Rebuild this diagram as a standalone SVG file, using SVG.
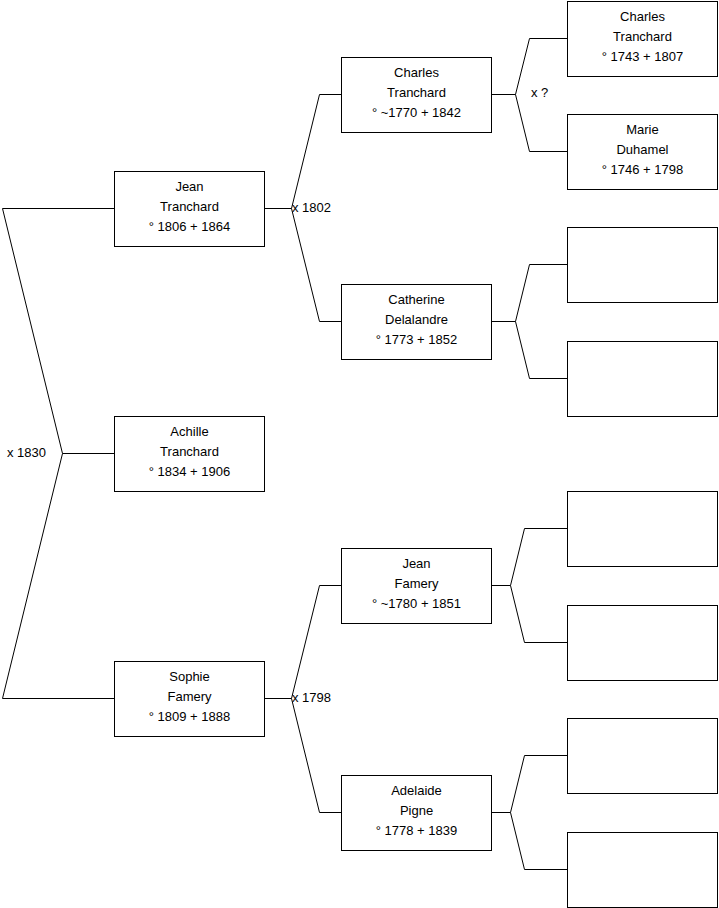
<svg xmlns="http://www.w3.org/2000/svg" width="719" height="908" viewBox="0 0 719 908">
<style>
rect.b{fill:#fff;stroke:#000;stroke-width:1}
text{font-family:"Liberation Sans",Arial,sans-serif;font-size:13px;fill:#000}
.c{text-anchor:middle}
#connectors path{fill:none;stroke:#000;stroke-width:1}
</style>
<rect width="719" height="908" fill="#fff"/>
<g id="connectors">
<path d="M114 208.5 H2.5 L62.5 453.5 L2.5 698.5 H114 M62.5 453.5 H114"/>
<path d="M264.5 208.5 H291.5 L319.5 94.5 H341 M291.5 208.5 L319.5 321.5 H341"/>
<path d="M264.5 698.5 H291.5 L319.5 585.5 H341 M291.5 698.5 L319.5 812.5 H341"/>
<path d="M491 94.5 H515.5 L529.5 38.5 H567 M515.5 94.5 L529.5 151.5 H567"/>
<path d="M491 321.5 H515.5 L529.5 264.5 H567 M515.5 321.5 L529.5 378.5 H567"/>
<path d="M491 585.5 H510.5 L524.5 528.5 H567 M510.5 585.5 L524.5 642.5 H567"/>
<path d="M491 812.5 H510.5 L524.5 755.5 H567 M510.5 812.5 L524.5 869.5 H567"/>
<text x="292" y="212">x 1802</text>
<text x="292" y="702">x 1798</text>
<text x="7" y="457">x 1830</text>
<text x="531" y="97">x ?</text>
</g>
<g id="jean-tranchard"><rect class="b" x="114.5" y="171.5" width="150" height="75"/>
<text class="c" x="189.5" y="191">Jean</text><text class="c" x="189.5" y="211">Tranchard</text><text class="c" x="189.5" y="231">° 1806 + 1864</text></g>
<g id="achille-tranchard"><rect class="b" x="114.5" y="416.5" width="150" height="75"/>
<text class="c" x="189.5" y="436">Achille</text><text class="c" x="189.5" y="456">Tranchard</text><text class="c" x="189.5" y="476">° 1834 + 1906</text></g>
<g id="sophie-famery"><rect class="b" x="114.5" y="661.5" width="150" height="75"/>
<text class="c" x="189.5" y="681">Sophie</text><text class="c" x="189.5" y="701">Famery</text><text class="c" x="189.5" y="721">° 1809 + 1888</text></g>
<g id="charles-tranchard-1770"><rect class="b" x="341.5" y="57.5" width="150" height="75"/>
<text class="c" x="416.5" y="77">Charles</text><text class="c" x="416.5" y="97">Tranchard</text><text class="c" x="416.5" y="117">° ~1770 + 1842</text></g>
<g id="catherine-delalandre"><rect class="b" x="341.5" y="284.5" width="150" height="75"/>
<text class="c" x="416.5" y="304">Catherine</text><text class="c" x="416.5" y="324">Delalandre</text><text class="c" x="416.5" y="344">° 1773 + 1852</text></g>
<g id="jean-famery"><rect class="b" x="341.5" y="548.5" width="150" height="75"/>
<text class="c" x="416.5" y="568">Jean</text><text class="c" x="416.5" y="588">Famery</text><text class="c" x="416.5" y="608">° ~1780 + 1851</text></g>
<g id="adelaide-pigne"><rect class="b" x="341.5" y="775.5" width="150" height="75"/>
<text class="c" x="416.5" y="795">Adelaide</text><text class="c" x="416.5" y="815">Pigne</text><text class="c" x="416.5" y="835">° 1778 + 1839</text></g>
<g id="charles-tranchard-1743"><rect class="b" x="567.5" y="1.5" width="150" height="75"/>
<text class="c" x="642.5" y="21">Charles</text><text class="c" x="642.5" y="41">Tranchard</text><text class="c" x="642.5" y="61">° 1743 + 1807</text></g>
<g id="marie-duhamel"><rect class="b" x="567.5" y="114.5" width="150" height="75"/>
<text class="c" x="642.5" y="134">Marie</text><text class="c" x="642.5" y="154">Duhamel</text><text class="c" x="642.5" y="174">° 1746 + 1798</text></g>
<g id="empty-3"><rect class="b" x="567.5" y="227.5" width="150" height="75"/></g>
<g id="empty-4"><rect class="b" x="567.5" y="341.5" width="150" height="75"/></g>
<g id="empty-5"><rect class="b" x="567.5" y="491.5" width="150" height="75"/></g>
<g id="empty-6"><rect class="b" x="567.5" y="605.5" width="150" height="75"/></g>
<g id="empty-7"><rect class="b" x="567.5" y="718.5" width="150" height="75"/></g>
<g id="empty-8"><rect class="b" x="567.5" y="832.5" width="150" height="75"/></g>
</svg>
